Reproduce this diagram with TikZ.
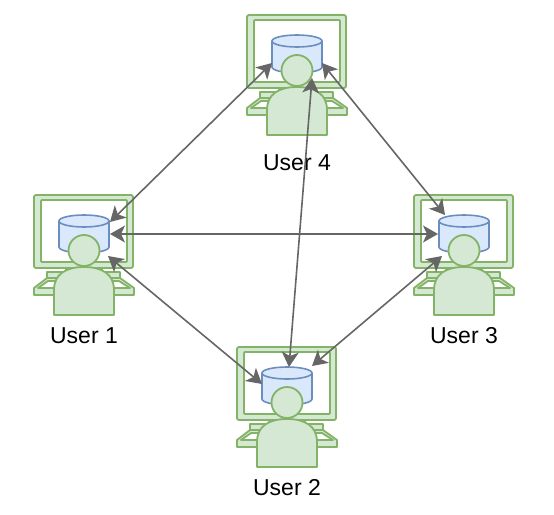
\documentclass[tikz,border=0pt]{standalone}
\usepackage{fontspec}
\setmainfont{Liberation Sans}
\usetikzlibrary{arrows.meta}
\definecolor{gfill}{HTML}{D5E8D4}
\definecolor{gline}{HTML}{82B366}
\definecolor{bfill}{HTML}{DAE8FC}
\definecolor{bline}{HTML}{6C8EBF}
\definecolor{arrowgray}{HTML}{666666}
\tikzset{
  green part/.style={draw=gline,fill=gfill,line width=1.8pt,line join=round},
  screen part/.style={draw=gline,fill=white,line width=1.8pt,line join=round},
  db part/.style={draw=bline,fill=bfill,line width=1.6pt},
  dbase/.style={rectangle,minimum width=50pt,minimum height=38pt,inner sep=0pt,outer sep=0pt},
  link/.style={draw=arrowgray,line width=1.6pt,{Stealth[length=15pt,width=17pt,inset=4pt]}-{Stealth[length=15pt,width=17pt,inset=4pt]}},
  caption/.style={font=\fontsize{23}{27}\selectfont,text=black,inner sep=0pt},
  user/.pic={
    % keyboard and stand
    \path[green part] (-50,54) -- (-37,44) -- (36,44) -- (50,54) -- (50,61) -- (-50,61) -- cycle;
    \path[screen part] (-46,54) -- (-36,47) -- (35,47) -- (46,54) -- cycle;
    \path[green part] (-37,38) rectangle (36,44);
    \path[green part] (-18,34) rectangle (18,38);
    % monitor
    \path[green part,rounded corners=2pt] (-50,-39) rectangle (49,34);
    \path[screen part,rounded corners=1pt] (-43,-34) rectangle (43,28);
    % database
    \node[dbase] (-db) at (0,0) {};
    \path[db part] (-25,-13) -- (-25,13) arc[start angle=180,end angle=360,x radius=25,y radius=-6] -- (25,-13) arc[start angle=0,end angle=180,x radius=25,y radius=-6] -- cycle;
    \path[db part] (-25,-13) arc[start angle=180,end angle=360,x radius=25,y radius=-6];
    % person
    \path[green part] (-30,81) -- (-30,56) .. controls (-30,40) and (-18,33) .. (0,33) .. controls (18,33) and (30,40) .. (30,56) -- (30,81) -- cycle;
    \path[green part] (0,16.5) circle (15.5);
  }
}
\begin{document}
\begin{tikzpicture}[x=1pt,y=-1pt]
\useasboundingbox (0,0) rectangle (554,514);
\pic (u1) at (84,234) {user};
\pic (u2) at (287,386) {user};
\pic (u3) at (464,234) {user};
\pic (u4) at (297,54) {user};
\node[caption] (l1) at (84,336) {User 1};
\node[caption] (l2) at (287,488) {User 2};
\node[caption] (l3) at (464,336) {User 3};
\node[caption] (l4) at (297,163) {User 4};
\draw[link] ([shift={(26,-12)}]u1-db.center) -- ([shift={(-25,9)}]u4-db.center);
\draw[link] ([shift={(26,0)}]u1-db.center) -- ([shift={(-26,0)}]u3-db.center);
\draw[link] ([shift={(24,22)}]u1-db.center) -- ([shift={(-25,-2)}]u2-db.center);
\draw[link] ([shift={(25,9)}]u4-db.center) -- ([shift={(-19,-19)}]u3-db.center);
\draw[link] ([shift={(15,24)}]u4-db.center) -- ([shift={(2,-19)}]u2-db.center);
\draw[link] ([shift={(-22,22)}]u3-db.center) -- ([shift={(25,-20)}]u2-db.center);
\end{tikzpicture}
\end{document}
